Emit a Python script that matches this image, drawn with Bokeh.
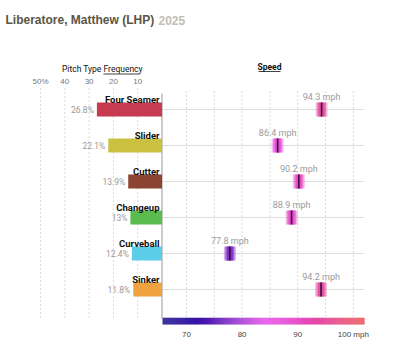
import numpy as np
from bokeh.plotting import figure
from bokeh.models import Range1d, ColumnDataSource, LinearColorMapper
from bokeh.core.properties import value
from bokeh.embed import file_html
from bokeh.resources import INLINE

# ---------------- data ----------------
pitch_types = ["Four Seamer", "Slider", "Cutter", "Changeup", "Curveball", "Sinker"]
frequency = [26.8, 22.1, 13.9, 13.0, 12.4, 11.8]
freq_labels = ["26.8%", "22.1%", "13.9%", "13%", "12.4%", "11.8%"]
speed = [94.3, 86.4, 90.2, 88.9, 77.8, 94.2]
speed_labels = ["94.3 mph", "86.4 mph", "90.2 mph", "88.9 mph", "77.8 mph", "94.2 mph"]
bar_colors = ["#c73a50", "#c9c13f", "#8a4431", "#5abc4e", "#5ccde8", "#f0a23e"]
freq_ticks = [50, 40, 30, 20, 10]
freq_tick_labels = ["50%", "40", "30", "20", "10"]
speed_grid = [70, 75, 80, 85, 90, 95, 100]
speed_ticks = [70, 80, 90, 100]
speed_tick_labels = ["70", "80", "90", "100 mph"]
speed_low, speed_high = 65.7, 102.0
title_main = "Liberatore, Matthew (LHP)"
title_year = "2025"

# ---------------- layout helpers (pixel -> data) ----------------
W, H = 400, 345
FZ, FK = 161.5, 2.43      # px of 0 %, px per %
SZ, SK = 186.0, 5.56      # px of 70 mph, px per mph
RY0, RK = 109.0, 36.0     # px of first row, px per row

def f_at(px):
    return (FZ - px) / FK

def s_at(px):
    return 70 + (px - SZ) / SK

def r_at(py):
    return (py - RY0) / RK

COND = "Roboto"
SANS = "Liberation Sans"

p = figure(width=W, height=H, x_range=Range1d(f_at(0), f_at(W)),
           y_range=Range1d(r_at(H), r_at(0)), output_backend="svg",
           toolbar_location=None, min_border=0,
           x_axis_location=None, y_axis_location=None)
p.extra_x_ranges = {"speed": Range1d(s_at(0), s_at(W))}
p.grid.visible = False
p.outline_line_color = None
p.background_fill_color = "white"

rows = list(range(len(pitch_types)))
src = ColumnDataSource(dict(row=rows, name=pitch_types, freq=frequency,
                            flab=freq_labels, speed=speed, slab=speed_labels,
                            color=bar_colors, zero=[0] * len(rows),
                            lo=[speed_low] * len(rows), hi=[speed_high] * len(rows)))

# ---------------- colour scale ----------------
stops = [(65.7, "#150a8a"), (72.0, "#3a14a8"), (78.0, "#8228c8"), (84.0, "#e443e6"),
         (90.0, "#e647c6"), (96.0, "#e34a8e"), (102.0, "#e84848")]

def hex2rgb(h):
    return np.array([int(h[i:i + 2], 16) for i in (1, 3, 5)], dtype=float)

sv = np.array([s for s, _ in stops])
cv = np.array([hex2rgb(c) for _, c in stops])
grid_s = np.linspace(speed_low, speed_high, 256)
palette = []
for s in grid_s:
    rgb = [np.interp(s, sv, cv[:, k]) for k in range(3)]
    palette.append("#%02x%02x%02x" % tuple(int(round(v)) for v in rgb))
mapper = LinearColorMapper(palette=palette, low=speed_low, high=speed_high)

# ---------------- gridlines ----------------
p.segment(x0=freq_ticks, x1=freq_ticks, y0=[r_at(88)] * len(freq_ticks),
          y1=[r_at(318)] * len(freq_ticks), line_color="#b5b5b5",
          line_dash="1 3", line_width=1)
p.segment(x0=speed_grid, x1=speed_grid, y0=[r_at(91)] * len(speed_grid),
          y1=[r_at(317)] * len(speed_grid), line_color="#b5b5b5",
          line_dash="1 3", line_width=1, x_range_name="speed")
# row lines
p.segment(x0="lo", x1="hi", y0="row", y1="row", source=src, line_color="#dddddd",
          line_width=1, x_range_name="speed")
# axis line
p.segment(x0=[0], x1=[0], y0=[r_at(93)], y1=[r_at(318)], line_color="#9a9a9a", line_width=1)

# ---------------- bars ----------------
p.hbar(y="row", left="freq", right="zero", height=14 / RK, fill_color="color",
       line_color=None, source=src)
p.text(x="freq", y="row", text="flab", source=src, text_align="right",
       text_baseline="middle", x_offset=-3, text_font=value(COND),
       text_font_size="8.5px", text_color="#9a9a9a")
p.text(x=[f_at(159)] * len(rows), y=rows, text=pitch_types, text_align="right",
       text_baseline="alphabetic", y_offset=-10.5, text_font=value(COND),
       text_font_style="bold", text_font_size="9.5px", text_color="#111111")

# ---------------- speed markers ----------------
for w, a in [(12, 0.35), (9, 0.55), (6, 0.85)]:
    p.rect(x="speed", y="row", width=w, width_units="screen", height=14,
           height_units="screen", source=src,
           fill_color={"field": "speed", "transform": mapper}, fill_alpha=a,
           line_color=None, x_range_name="speed")
p.rect(x="speed", y="row", width=1.6, width_units="screen", height=14,
       height_units="screen", source=src, fill_color="#3a1038", line_color=None,
       x_range_name="speed")
p.text(x="speed", y="row", text="slab", source=src, text_align="center",
       text_baseline="middle", y_offset=-13, text_font=value(COND),
       text_font_size="9px", text_color="#9a9a9a", x_range_name="speed")

# ---------------- colour bar ----------------
edges = np.linspace(speed_low, speed_high, 201)
p.quad(left=edges[:-1], right=edges[1:] + 0.02, top=[r_at(317.3)] * 200,
       bottom=[r_at(324)] * 200,
       fill_color={"field": "left", "transform": mapper}, line_color=None,
       x_range_name="speed")
p.text(x=speed_ticks, y=[r_at(334)] * len(speed_ticks), text=speed_tick_labels,
       text_align="center", text_baseline="middle", text_font=value(SANS),
       text_font_size="8px", text_color="#444444", x_range_name="speed")

# ---------------- frequency ticks ----------------
p.text(x=freq_ticks, y=[r_at(81)] * len(freq_ticks), text=freq_tick_labels,
       text_align="center", text_baseline="middle", text_font=value(SANS),
       text_font_size="8px", text_color="#777777")

# ---------------- headers ----------------
p.text(x=[f_at(101)], y=[r_at(68)], text=["Pitch Type"], text_align="right",
       text_baseline="middle", text_font=value(COND), text_font_size="8.5px",
       text_color="#111111")
p.text(x=[f_at(103)], y=[r_at(68)], text=["Frequency"], text_align="left",
       text_baseline="middle", text_font=value(COND), text_font_size="8.5px",
       text_color="#111111")
p.segment(x0=[f_at(103)], x1=[f_at(139)], y0=[r_at(73.5)], y1=[r_at(73.5)],
          line_color="#111111", line_width=0.8)
p.text(x=[s_at(269)], y=[r_at(66)], text=["Speed"], text_align="center",
       text_baseline="middle", text_font=value(COND), text_font_style="bold",
       text_font_size="8.5px", text_color="#111111", x_range_name="speed")
p.segment(x0=[s_at(258)], x1=[s_at(280)], y0=[r_at(71)], y1=[r_at(71)],
          line_color="#111111", line_width=0.8, x_range_name="speed")

# ---------------- title ----------------
p.text(x=[f_at(5)], y=[r_at(19.5)], text=[title_main], text_align="left",
       text_baseline="alphabetic", text_font=value(SANS), text_font_style="bold",
       text_font_size="12px", text_color="#5a5546")
p.text(x=[f_at(158)], y=[r_at(19.5)], text=[title_year], text_align="left",
       text_baseline="alphabetic", text_font=value(SANS), text_font_style="bold",
       text_font_size="12px", text_color="#c3beb2")

open("out.html", "w").write(file_html(p, INLINE))
